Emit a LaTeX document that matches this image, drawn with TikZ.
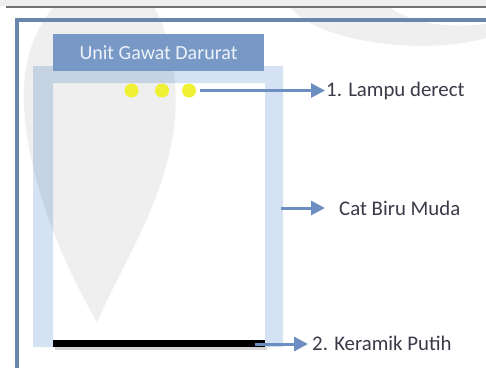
\documentclass[tikz,border=0pt]{standalone}
\usepackage{fontspec}
\setmainfont{Carlito}
\usetikzlibrary{arrows.meta}
\definecolor{wm}{HTML}{EFEFEF}
\definecolor{frameblue}{HTML}{6A86AD}
\definecolor{wallblue}{HTML}{D4E2F3}
\definecolor{titleblue}{HTML}{7899C6}
\definecolor{arrowblue}{HTML}{6D8EC0}
\definecolor{dotyellow}{HTML}{F0F035}
\definecolor{labeltext}{HTML}{3D3848}
\definecolor{titletext}{HTML}{EEF2FA}
\tikzset{
  lbl/.style={anchor=west, inner sep=0pt, text=labeltext, font=\fontsize{20.8bp}{24bp}\selectfont},
  lamp/.style={circle, fill=dotyellow, minimum size=14bp, inner sep=0pt},
  pointer/.style={draw=arrowblue, line width=3bp, -{Triangle[length=14bp,width=14bp]}},
  titlebox/.style={fill=titleblue, text=titletext, minimum width=211bp, minimum height=37bp, inner sep=0pt, font=\fontsize{20bp}{24bp}\selectfont}
}
\begin{document}
\begin{tikzpicture}[x=1bp,y=-1bp]
\useasboundingbox (0,0) rectangle (486,367);
\clip (0,0) rectangle (486,367);
\fill[white] (0,0) rectangle (486,367);
% watermark
\fill[wm] (97,322) .. controls (55,250) and (22,160) .. (24,90)
  .. controls (25,50) and (40,20) .. (60,0) -- (150,0)
  .. controls (175,40) and (182,100) .. (170,150)
  .. controls (158,210) and (120,270) .. (97,322) -- cycle;
\fill[wm] (285,0) .. controls (310,45) and (430,55) .. (486,38) -- (486,24)
  .. controls (440,30) and (400,20) .. (380,0) -- cycle;
\fill[wm] (0,0) rectangle (486,6);
% top page line
\draw[line width=2.5bp, color=black!55] (6,7) -- (486,7);
% outer frame
\draw[line width=4.5bp, color=frameblue] (17,380) -- (17,20) -- (500,20);
% light blue wall
\begin{scope}[blend mode=multiply]
\fill[wallblue, even odd rule] (33,66) rectangle (283,347) (53,83) rectangle (265,347);
\end{scope}
% floor
\fill[black!25, opacity=0.6] (55,347) rectangle (267,350);
\fill[black] (53,340) rectangle (265,347);
% title
\node[titlebox] (title) at (158.5,52.5) {Unit Gawat Darurat};
% lamps
\node[lamp] (d1) at (131.5,90.5) {};
\node[lamp] (d2) at (162,90.5) {};
\node[lamp] (d3) at (189,90.5) {};
% labels
\node[lbl] (l1) at (326,90.5) {1. Lampu derect};
\node[lbl] (l2) at (339,208) {Cat Biru Muda};
\node[lbl] (l3) at (312,343.5) {2. Keramik Putih};
\coordinate (wall) at (281,208);
\coordinate (floor) at (255,344);
% connectors
\draw[pointer, shorten <=4bp, shorten >=1bp] (d3.east) -- (l1.west);
\draw[pointer, shorten >=14bp] (wall) -- (l2.west);
\draw[pointer, shorten >=4bp] (floor) -- (floor -| l3.west);
\end{tikzpicture}
\end{document}
